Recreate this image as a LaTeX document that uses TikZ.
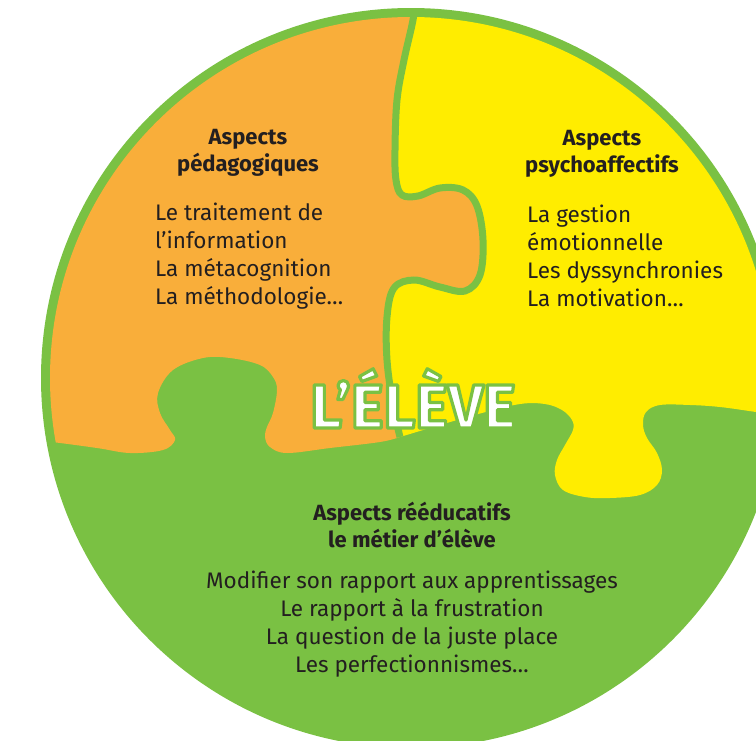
\documentclass[tikz,border=0pt]{standalone}
\usepackage{fontspec}
\setmainfont{Fira Sans}
\definecolor{leaf}{RGB}{122,193,67}
\definecolor{tangerine}{RGB}{249,174,58}
\definecolor{lemon}{RGB}{255,237,0}
\definecolor{ink}{RGB}{35,31,32}
\tikzset{
  heading/.style={font=\bfseries\fontsize{22}{27}\selectfont, align=center, text=ink, inner sep=0pt},
  items/.style={font=\fontsize{22.5}{28}\selectfont, text=ink, inner sep=0pt},
}
% ligne de decoupe entre les deux pieces du haut
\newcommand\cutline{plot[smooth,tension=.6] coordinates {(416,-5) (413,20) (404,60) (397,100) (395,150) (396,180) (402,195) (418,196) (440,188) (463,190) (477,206) (483,240) (480,275) (465,291) (440,287) (414,280) (394,288) (387,317) (387,360) (393,405) (400,437)}}
% texte blanc cerne de vert
\newcommand\ringtext[1]{\color{white}\special{pdf:literal direct 2 Tr 1 j 3.2 w 0.478 0.757 0.263 RG}#1\special{pdf:literal direct 0 Tr}}

\begin{document}
\begin{tikzpicture}[x=1pt,y=-1pt]
	\clip (0,0) rectangle (756,740);
	
	% disque vert
	\fill[leaf] (411,378) circle[radius=370pt];
	
	\begin{scope}
		\clip (411,378) circle[radius=361pt];
		% piece orange
		\fill[tangerine] \cutline -- plot[smooth,tension=.6] coordinates {(400,437) (380,442) (330,448) (287,453) (270,447) (265,437) (267,427) (273,413) (277,390) (273,377) (260,365) (230,358) (203,358) (173,370) (158,393) (160,413) (170,430) (175,440) (163,450) (130,453) (97,448) (52,442) (-10,435)} -- (-10,-10) -- cycle;
		% piece jaune
		\fill[lemon] \cutline -- plot[smooth,tension=.6] coordinates {(400,437) (440,425) (482,413) (520,404) (545,404) (562,410) (572,420) (573,430) (565,445) (557,460) (555,475) (563,490) (585,497) (610,498) (640,495) (657,485) (662,470) (657,453) (647,438) (643,425) (646,412) (660,405) (690,405) (720,407) (756,412) (790,417)} -- (790,-10) -- cycle;
		\draw[leaf, line width=7pt] \cutline;
	\end{scope}
	
	% textes
	\node[heading] (pedaTitle) at (248,153) {Aspects\\pédagogiques};
	\node[items, align=left, anchor=west] (pedaList) at (155,256) {Le traitement de\\l’information\\La métacognition\\La méthodologie…};
	
	\node[heading] (psyTitle) at (602,154) {Aspects\\psychoaffectifs};
	\node[items, align=left, anchor=west] (psyList) at (527,256) {La gestion\\émotionnelle\\Les dyssynchronies\\La motivation…};
	
	\node[font=\bfseries\fontsize{62}{66}\selectfont, anchor=base] (eleve) at (413,428) {\ringtext{L’ÉLÈVE}};
	
	\node[heading] (reeduTitle) at (412,525) {Aspects rééducatifs\\le métier d’élève};
	\node[items, align=center] (reeduList) at (412,624) {Modifier son rapport aux apprentissages\\Le rapport à la frustration\\La question de la juste place\\Les perfectionnismes…};
\end{tikzpicture}
\end{document}
